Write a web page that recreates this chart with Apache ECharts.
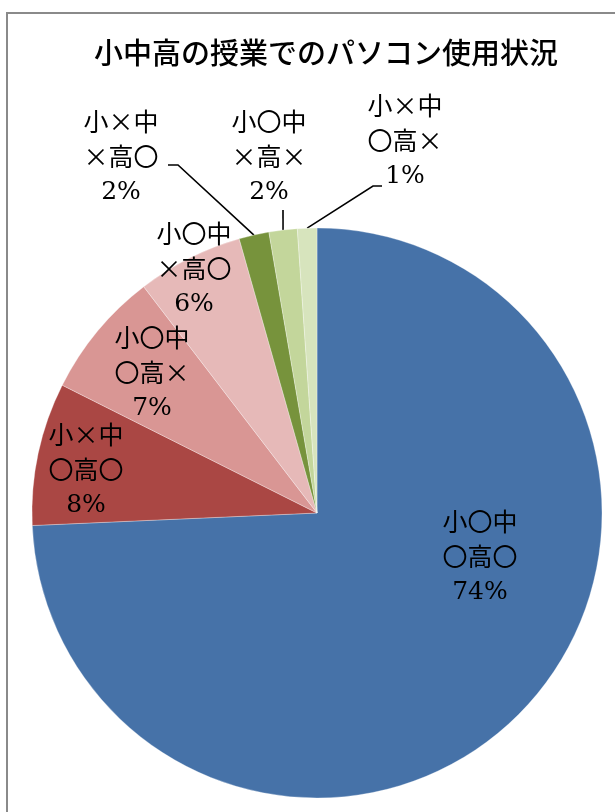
<!DOCTYPE html>
<html>
<head>
<meta charset="utf-8">
<script src="https://cdn.jsdelivr.net/npm/echarts@6/dist/echarts.min.js"></script>
<style>
  html, body { margin: 0; padding: 0; background: #fff; }
  #chart { width: 615px; height: 812px; }
</style>
</head>
<body>
<div id="chart"></div>
<script>
// Categories: 小・中・高 で授業中にパソコンを使ったか (〇 / ×)
const categories = [
  '小〇中〇高〇',
  '小×中〇高〇',
  '小〇中〇高×',
  '小〇中×高〇',
  '小×中×高〇',
  '小〇中×高×',
  '小×中〇高×'
];
// Share of respondents (%)
const shares = [74.3, 8.1, 7.2, 6.0, 1.7, 1.6, 1.1];
const sliceColors = ['#4672A8', '#AA4744', '#D99694', '#E6B9B8', '#77933C', '#C3D69B', '#D7E4BD'];

// Pie geometry
const CX = 317, CY = 513, R = 285;

// Label block centres and leader-line elbows
const labelAt = [[480, 557], [86, 470], [152, 373], [194, 269], [121, 157], [269, 157], [405, 141]];
const leaderElbows = { 4: [[178, 165], [168, 165]], 5: [[283, 210]], 6: [[373, 186], [382, 186]] };

const total = shares.reduce((a, b) => a + b, 0);
function arcPoint(i) {
  let before = 0;
  for (let k = 0; k < i; k++) before += shares[k];
  const mid = (before + shares[i] / 2) / total * Math.PI * 2;
  return [CX + R * Math.sin(mid), CY - R * Math.cos(mid)];
}

const data = categories.map((name, i) => {
  const outside = !!leaderElbows[i];
  return {
    name: name,
    value: shares[i],
    itemStyle: { color: sliceColors[i] },
    label: { position: outside ? 'outside' : 'inside' },
    labelLine: { show: outside }
  };
});

const chart = echarts.init(document.getElementById('chart'), null, { renderer: 'canvas' });
chart.setOption({
  animation: false,
  backgroundColor: '#ffffff',
  title: {
    text: '小中高の授業でのパソコン使用状況',
    left: 326,
    top: 38,
    textAlign: 'center',
    padding: 0,
    textStyle: {
      fontFamily: 'Noto Sans CJK JP',
      fontSize: 29,
      fontWeight: 500,
      color: '#000'
    }
  },
  graphic: [{
    type: 'rect',
    shape: { x: 7, y: 13, width: 800, height: 900 },
    style: { fill: 'none', stroke: '#8a8a8a', lineWidth: 2 },
    silent: true
  }],
  series: [{
    type: 'pie',
    center: [CX, CY],
    radius: R,
    startAngle: 90,
    clockwise: true,
    avoidLabelOverlap: false,
    itemStyle: { borderColor: 'rgba(255,255,255,0.6)', borderWidth: 0.5 },
    label: {
      show: true,
      color: '#000',
      formatter: function (p) {
        return '{j|' + p.name.slice(0, 3) + '}\n{j|' + p.name.slice(3) + '}\n{p|' + Math.round(p.percent) + '%}';
      },
      rich: {
        j: { fontFamily: 'Noto Sans CJK JP', fontSize: 25, lineHeight: 35, color: '#000', align: 'center' },
        p: { fontFamily: 'DejaVu Serif', fontSize: 25, fontWeight: 500, lineHeight: 37, color: '#000', align: 'center' }
      }
    },
    labelLine: {
      show: false,
      lineStyle: { color: '#000', width: 1.6 }
    },
    labelLayout: function (params) {
      const i = params.dataIndex;
      const out = { x: labelAt[i][0], y: labelAt[i][1], align: 'center', verticalAlign: 'middle' };
      if (leaderElbows[i]) {
        out.labelLinePoints = [arcPoint(i)].concat(leaderElbows[i]);
      }
      return out;
    },
    data: data
  }]
});
</script>
</body>
</html>
